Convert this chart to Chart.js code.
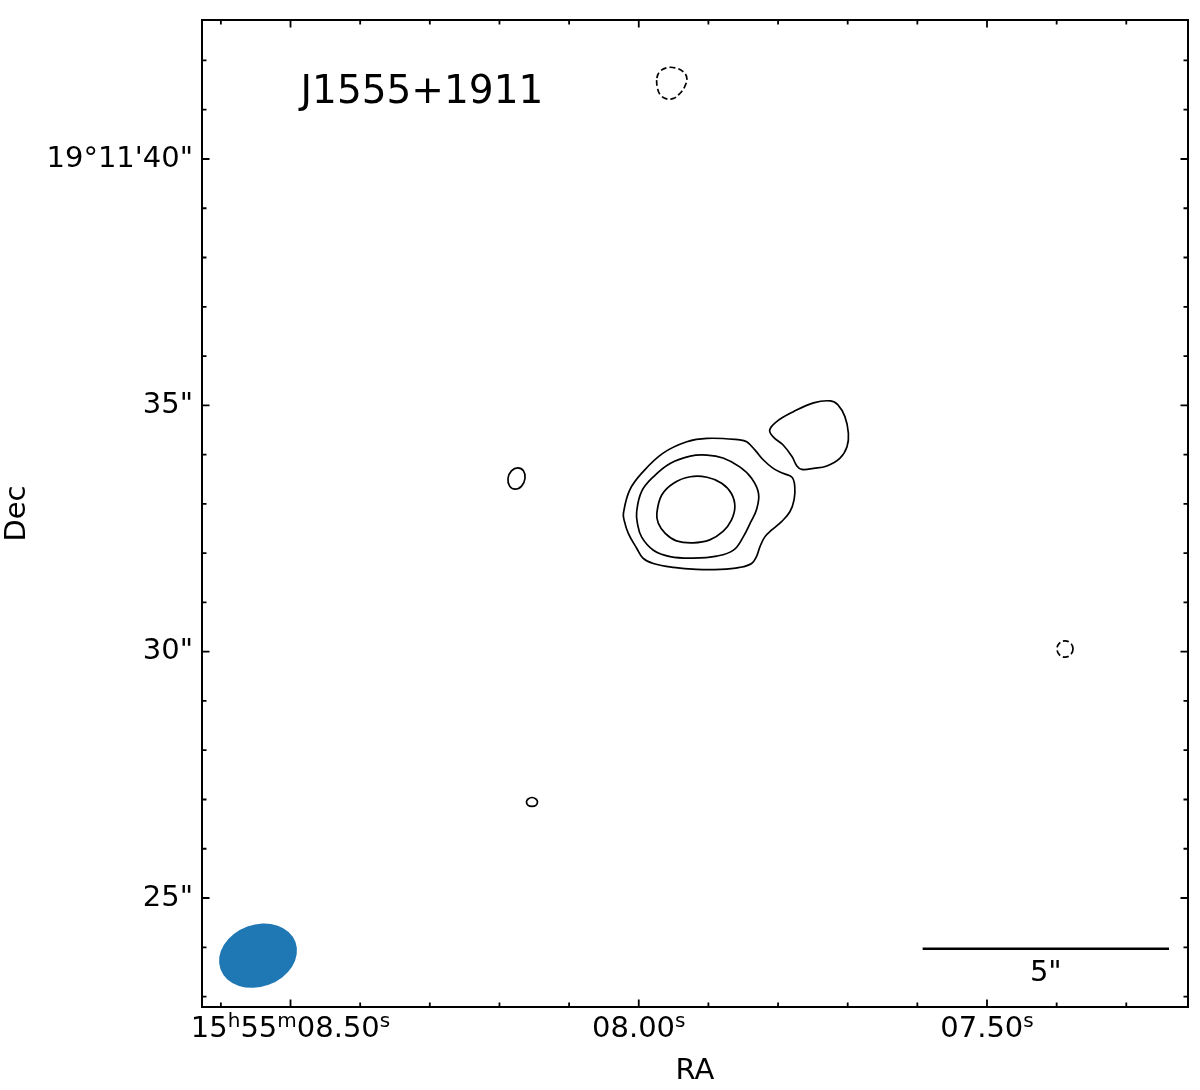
<!DOCTYPE html>
<html>
<head>
<meta charset="utf-8">
<script src="https://cdn.jsdelivr.net/npm/chart.js@4.4.1/dist/chart.umd.min.js"></script>
<style>
  body { margin: 0; background: #fff; }
</style>
</head>
<body>
<canvas id="map" width="1200" height="1090"></canvas>
<script>
// RA in seconds of 15h55m, Dec in arcsec of +19d11m
const raMajor = [8.5, 8.0, 7.5];
const raMinor = [8.6, 8.4, 8.3, 8.2, 8.1, 7.9, 7.8, 7.7, 7.6, 7.4, 7.3];
const decMajor = [40, 35, 30, 25];
const decMinor = [23, 24, 26, 27, 28, 29, 31, 32, 33, 34, 36, 37, 38, 39, 41, 42];
const raLimits = [7.2114, 8.6271];
const decLimits = [22.788, 42.821];

// contour paths
const outerContour = [[8.022,32.81],[8.013,33.28],[7.994,33.65],[7.965,34.03],[7.931,34.26],[7.902,34.33],[7.855,34.30],[7.845,34.26],[7.833,34.09],[7.821,33.89],[7.807,33.72],[7.793,33.62],[7.780,33.54],[7.776,33.35],[7.777,33.08],[7.783,32.84],[7.795,32.64],[7.809,32.47],[7.819,32.33],[7.826,32.13],[7.831,31.93],[7.838,31.79],[7.855,31.71],[7.883,31.67],[7.917,31.67],[7.950,31.71],[7.979,31.79],[7.994,31.90],[8.003,32.10],[8.015,32.40],[8.021,32.67]];
const middleContour = [[8.003,32.84],[7.996,33.25],[7.979,33.55],[7.955,33.82],[7.926,33.97],[7.902,33.99],[7.879,33.93],[7.855,33.75],[7.838,33.52],[7.828,33.21],[7.831,32.88],[7.840,32.61],[7.850,32.33],[7.864,32.06],[7.888,31.94],[7.922,31.90],[7.955,31.93],[7.979,32.06],[7.996,32.33],[8.002,32.61]];
const innerContour = [[7.974,32.81],[7.967,33.18],[7.950,33.42],[7.926,33.55],[7.902,33.54],[7.881,33.42],[7.867,33.21],[7.862,32.94],[7.867,32.67],[7.879,32.44],[7.898,32.27],[7.922,32.21],[7.946,32.25],[7.962,32.40],[7.972,32.61]];
const northBlob = [[7.812,34.50],[7.802,34.67],[7.778,34.87],[7.749,35.05],[7.725,35.09],[7.714,35.01],[7.704,34.77],[7.699,34.43],[7.701,34.16],[7.711,33.93],[7.730,33.77],[7.749,33.72],[7.766,33.70],[7.773,33.77],[7.780,33.96],[7.793,34.20],[7.807,34.36]];
const westKnot = [[8.1633,33.52],[8.1682,33.36],[8.1774,33.30],[8.1854,33.36],[8.1877,33.52],[8.1828,33.67],[8.1737,33.73],[8.1656,33.67]];
const southKnot = [[8.1454,26.95],[8.1477,26.88],[8.1533,26.86],[8.1589,26.88],[8.1612,26.95],[8.1589,27.01],[8.1533,27.04],[8.1477,27.01]];
const northNegative = [[7.974,41.64],[7.970,41.77],[7.960,41.85],[7.948,41.85],[7.936,41.77],[7.931,41.64],[7.934,41.47],[7.941,41.33],[7.950,41.23],[7.960,41.22],[7.969,41.30],[7.973,41.43]];
const eastNegative = [[7.3765,30.06],[7.3798,29.94],[7.3880,29.89],[7.3962,29.94],[7.3995,30.06],[7.3962,30.17],[7.3880,30.22],[7.3798,30.17]];

// beam: centre (RA s, Dec "), FWHM axes in arcsec, tilt on screen in degrees
const beamCentre = [8.5467, 23.83];
const beamAxes = [1.62, 1.26];
const beamAngle = 20;

// scale bar: length in arcsec, right end (RA s, Dec ")
const scaleBarLength = 5;
const scaleBarEnd = [7.2387, 23.97];

const sourceName = "J1555+1911";
const FONT = "'DejaVu Sans', sans-serif";

function contour(points, dashed) {
  return {
    data: points.map(p => ({ x: p[0], y: p[1] })),
    borderColor: "#000",
    borderWidth: 1.7,
    borderDash: dashed ? [6, 3] : [],
    tension: 0.4,
    pointRadius: 0,
    fill: false,
    closed: true,
  };
}

// RA label pieces: [text, superscript?]
function raLabelParts(v) {
  if (Math.abs(v - 8.5) < 1e-6) {
    return [["15", false], ["h", true], ["55", false], ["m", true], ["08.50", false], ["s", true]];
  }
  return [["0" + v.toFixed(2), false], ["s", true]];
}

function decLabel(v) {
  if (v === 40) return "19\u00B011'40\"";
  return v + '"';
}

// ticks inward on all four sides, frame, RA labels, beam, scale bar, name
const mapExtras = {
  id: "mapExtras",
  afterDatasetUpdate(chart, args) {
    const ds = chart.data.datasets[args.index];
    if (ds.closed) {
      args.meta.dataset._loop = true;
      args.meta.dataset._fullLoop = true;
    }
  },
  afterDraw(chart) {
    const { ctx, chartArea: a, scales: { x, y } } = chart;
    const arcsec = Math.abs(y.getPixelForValue(1) - y.getPixelForValue(0));
    ctx.save();

    // beam
    ctx.fillStyle = "#1f77b4";
    ctx.beginPath();
    ctx.ellipse(x.getPixelForValue(beamCentre[0]), y.getPixelForValue(beamCentre[1]),
      beamAxes[0] / 2 * arcsec, beamAxes[1] / 2 * arcsec, -beamAngle * Math.PI / 180, 0, 2 * Math.PI);
    ctx.fill();

    // scale bar
    const bx1 = x.getPixelForValue(scaleBarEnd[0]);
    const bx0 = bx1 - scaleBarLength * arcsec;
    const by = y.getPixelForValue(scaleBarEnd[1]);
    ctx.strokeStyle = "#000";
    ctx.lineWidth = 2.5;
    ctx.beginPath();
    ctx.moveTo(bx0, by);
    ctx.lineTo(bx1, by);
    ctx.stroke();
    ctx.fillStyle = "#000";
    ctx.font = "29px " + FONT;
    ctx.textAlign = "center";
    ctx.textBaseline = "alphabetic";
    ctx.fillText(scaleBarLength + '"', (bx0 + bx1) / 2, by + 32.5);

    // source name
    ctx.font = "39px " + FONT;
    ctx.textAlign = "left";
    ctx.fillText(sourceName, a.left + 0.1 * (a.right - a.left), a.top + 83);

    // RA tick labels with raised h/m/s
    const mainFont = "29px " + FONT, supFont = "20px " + FONT;
    raMajor.forEach(v => {
      const parts = raLabelParts(v);
      let w = 0;
      parts.forEach(([t, sup]) => { ctx.font = sup ? supFont : mainFont; w += ctx.measureText(t).width; });
      let cx = x.getPixelForValue(v) - w / 2;
      parts.forEach(([t, sup]) => {
        ctx.font = sup ? supFont : mainFont;
        ctx.fillText(t, cx, a.bottom + (sup ? 20 : 30));
        cx += ctx.measureText(t).width;
      });
    });

    // ticks
    ctx.lineWidth = 1.8;
    ctx.beginPath();
    const tickX = (vals, len) => vals.forEach(v => {
      const px = x.getPixelForValue(v);
      ctx.moveTo(px, a.bottom); ctx.lineTo(px, a.bottom - len);
      ctx.moveTo(px, a.top); ctx.lineTo(px, a.top + len);
    });
    const tickY = (vals, len) => vals.forEach(v => {
      const py = y.getPixelForValue(v);
      ctx.moveTo(a.left, py); ctx.lineTo(a.left + len, py);
      ctx.moveTo(a.right, py); ctx.lineTo(a.right - len, py);
    });
    tickX(raMajor, 7.5);
    tickX(raMinor, 4.5);
    tickY(decMajor, 7.5);
    tickY(decMinor, 4.5);
    ctx.stroke();

    // frame
    ctx.lineWidth = 2;
    ctx.strokeRect(a.left, a.top, a.right - a.left, a.bottom - a.top);
    ctx.restore();
  }
};

new Chart(document.getElementById("map"), {
  type: "line",
  data: {
    datasets: [
      contour(outerContour, false),
      contour(middleContour, false),
      contour(innerContour, false),
      contour(northBlob, false),
      contour(westKnot, false),
      contour(southKnot, false),
      contour(northNegative, true),
      contour(eastNegative, true),
    ],
  },
  options: {
    responsive: false,
    animation: false,
    events: [],
    layout: { padding: { top: 20, right: 12, left: 0, bottom: 0 } },
    plugins: { legend: { display: false }, tooltip: { enabled: false } },
    scales: {
      x: {
        type: "linear",
        reverse: true,
        min: raLimits[0],
        max: raLimits[1],
        grid: { display: false, drawTicks: false },
        border: { display: false },
        afterBuildTicks: s => { s.ticks = raMajor.map(v => ({ value: v })); },
        afterFit: s => { s.height = 83; s.paddingLeft = 0; s.paddingRight = 0; },
        ticks: { display: false },
        title: { display: true, text: "RA", color: "#000", font: { family: FONT, size: 29 }, padding: { top: 0, bottom: 1 } },
      },
      y: {
        type: "linear",
        min: decLimits[0],
        max: decLimits[1],
        grid: { display: false, drawTicks: false },
        border: { display: false },
        afterBuildTicks: s => { s.ticks = decMajor.map(v => ({ value: v })); },
        afterFit: s => { s.width = 202; s.paddingTop = 0; s.paddingBottom = 0; },
        ticks: {
          color: "#000",
          font: { family: FONT, size: 29 },
          padding: 9,
          autoSkip: false,
          callback: v => decLabel(v),
        },
        title: { display: true, text: "Dec", color: "#000", font: { family: FONT, size: 29 }, padding: { top: 0, bottom: 0 } },
      },
    },
  },
  plugins: [mapExtras],
});
</script>
</body>
</html>
